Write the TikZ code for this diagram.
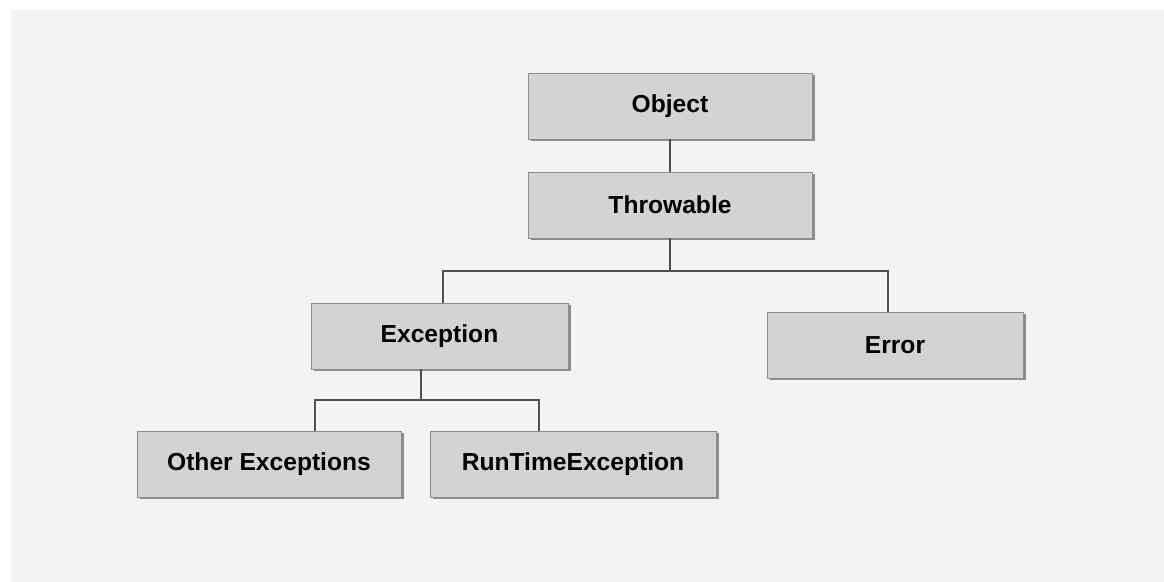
\documentclass[tikz,border=0pt]{standalone}
\usepackage{fontspec}
\setmainfont{Liberation Sans}
\usepackage{tikz}
\usetikzlibrary{shadows,positioning}
\definecolor{bgcol}{HTML}{F3F3F3}
\definecolor{boxfill}{HTML}{D3D3D3}
\definecolor{boxedge}{HTML}{8C8C8C}
\definecolor{linecol}{HTML}{505050}

\begin{document}
\begin{tikzpicture}[
      cls/.style={rectangle, draw=boxedge, line width=0.5pt, fill=boxfill, minimum height=1.32cm, font=\bfseries\fontsize{14}{16}\selectfont,
        drop shadow={shadow xshift=0.05cm, shadow yshift=-0.05cm, fill=black!45, opacity=1}},
      link/.style={draw=linecol, line width=1.1pt}
    ]
    \useasboundingbox (0,0) rectangle (23.28,-11.64);
    \fill[white] (0,0) rectangle (23.28,-11.64);
    \fill[bgcol] (0.22,-0.20) rectangle (23.28,-11.64);
    \node[cls, minimum width=5.68cm] (obj) at (13.40,-2.12) {Object};
    \node[cls, minimum width=5.68cm] (thr) at (13.40,-4.10) {Throwable};
    \node[cls, minimum width=5.14cm] (exc) at (8.79,-6.72) {Exception};
    \node[cls, minimum width=5.12cm] (err) at (17.90,-6.90) {Error};
    \node[cls, minimum width=5.28cm] (oth) at (5.38,-9.28) {Other Exceptions};
    \node[cls, minimum width=5.72cm] (rte) at (11.46,-9.28) {RunTimeException};
    \coordinate (split1) at (13.40,-5.42);
    \coordinate (split2) at (8.42,-8.00);
    \draw[link] (obj) -- (thr);
    \draw[link] (thr.south) -- (split1);
    \draw[link] ([xshift=0.07cm]exc.north) |- (split1) -| ([xshift=-0.14cm]err.north);
    \draw[link] ([xshift=-0.37cm]exc.south) -- (split2);
    \draw[link] ([xshift=0.92cm]oth.north) |- (split2) -| ([xshift=-0.68cm]rte.north);
  \end{tikzpicture}
\end{document}
